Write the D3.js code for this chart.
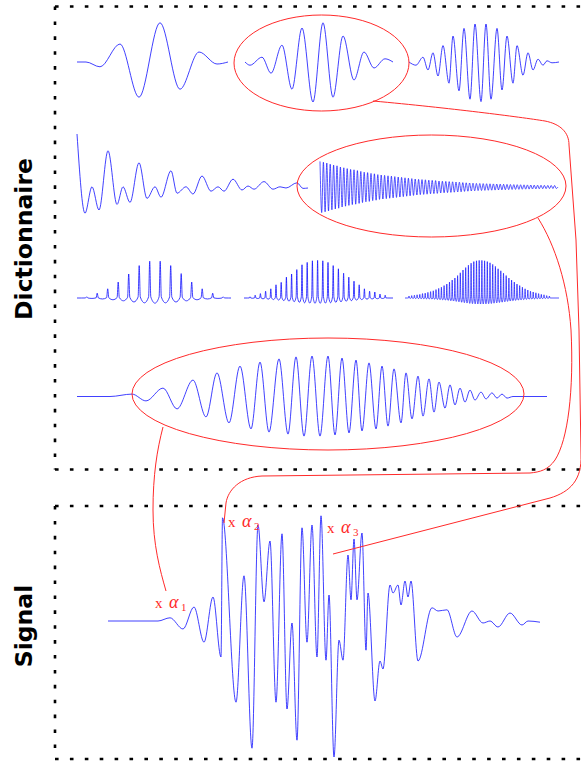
<!DOCTYPE html>
<html><head><meta charset="utf-8">
<script src="https://cdn.jsdelivr.net/npm/d3@7"></script>
<style>html,body{margin:0;padding:0;background:#fff;}svg{display:block}</style>
</head><body><svg id="c" width="581" height="761"></svg>
<script>
// ---------------- DATA (time in samples, amplitude in normalized units) ----------------
const panelLabels = ["Dictionnaire", "Signal"];
const coefLabels = ["1", "2", "3"];

// Row 1 : Gabor atoms (extrema)
const gaborLowT  = [0,9,23,43,62,83,103,122,140,151];
const gaborLowA  = [0,0,-0.12,0.45,-0.88,0.98,-0.68,0.25,-0.05,0];
const gaborMidT  = [0,5,17,26,37,47,57,68,78,88,98,109,119,129,140,148];
const gaborMidA  = [0,-0.08,0.12,-0.28,0.42,-0.68,0.85,-1.0,0.98,-0.88,0.65,-0.45,0.25,-0.15,0.08,0];
const gaborHighT = [0,7,14,19,24,29,34,40,44,50,55,61,66,72,77,82,88,93,98,104,108,114,119,124,129,134,138,143,150];
const gaborHighA = [0,-0.08,0.12,-0.2,0.23,-0.35,0.41,-0.53,0.65,-0.72,0.84,-0.93,0.95,-0.99,0.95,-0.93,0.84,-0.7,0.65,-0.53,0.41,-0.33,0.23,-0.2,0.07,-0.08,0.03,-0.02,0];

// Row 2 : damped atoms
const dampedLowT = [0,8,15,22,31,40,46,53,62,70,78,84,94,100,109,116,125,134,141,147,156,165,171,177,187,196,203,209,220,226,231];
const dampedLowA = [1.35,-0.63,0.03,-0.55,0.93,-0.41,0.03,-0.36,0.63,-0.26,0.03,-0.23,0.43,-0.13,0.03,-0.15,0.3,-0.08,0.03,-0.08,0.22,-0.05,0.05,-0.03,0.16,-0.03,0.03,0,0.13,-0.01,0];
const dampedHighPeriod = 3.4;
const dampedHighAmp = [0.64,0.62,0.6,0.57,0.55,0.53,0.5,0.48,0.46,0.44,
  0.43,0.41,0.39,0.37,0.36,0.34,0.33,0.31,0.3,0.29,
  0.28,0.27,0.26,0.25,0.24,0.23,0.22,0.21,0.2,0.19,
  0.185,0.18,0.17,0.165,0.16,0.15,0.145,0.14,0.135,0.13,
  0.125,0.12,0.11,0.105,0.1,0.095,0.09,0.088,0.085,0.082,
  0.08,0.077,0.074,0.071,0.068,0.065,0.062,0.06,0.058,0.056,
  0.054,0.052,0.05,0.048,0.046,0.044,0.042,0.04,0.039,0.038];

// Row 3 : harmonic combs (spike heights)
const combA = {len:154, first:9.7, step:10.5, h:[0.03,0.12,0.23,0.4,0.6,0.81,0.92,0.92,0.81,0.61,0.4,0.23,0.12,0.03]};
const combB = {len:149, first:6, step:5.2, h:[0.03,0.07,0.11,0.17,0.23,0.33,0.39,0.52,0.6,0.71,0.83,0.89,0.93,0.94,0.93,0.89,0.81,0.73,0.62,0.52,0.42,0.33,0.23,0.17,0.15,0.1,0.07]};
const combC = {len:154, first:4, step:2.7, h:[0.05,0.06,0.07,0.08,0.09,0.11,0.12,0.14,0.16,0.18,0.21,0.24,0.27,0.31,0.35,0.4,0.45,0.5,0.56,0.63,0.7,0.76,0.82,0.87,0.91,0.93,0.94,0.94,0.93,0.91,0.88,0.84,0.79,0.73,0.68,0.62,0.56,0.5,0.45,0.4,0.35,0.31,0.27,0.23,0.2,0.17,0.15,0.13,0.11,0.09,0.08,0.06,0.05]};

// Row 4 : chirp atom
const chirpT = [0,33,55,69,86,100,116,129,140,152,163,174,183,192,202,211,219,227,235,243,251,258,265,272,279,285,292,299,305,311,317,324,329,335,341,346,352,357,362,368,373,378,383,388,393,398,404,409,415,420,425,430,436,470];
const chirpA = [0,0,0.06,-0.11,0.21,-0.31,0.41,-0.51,0.59,-0.66,0.76,-0.81,0.86,-0.89,0.94,-0.94,0.99,-0.99,1.01,-0.99,1.01,-0.96,0.96,-0.91,0.91,-0.86,0.84,-0.81,0.76,-0.74,0.69,-0.66,0.59,-0.56,0.51,-0.49,0.44,-0.39,0.36,-0.29,0.29,-0.21,0.21,-0.14,0.16,-0.09,0.11,-0.06,0.09,-0.04,0.06,-0.04,0,0];

// Signal
const signalT = [0,50,62,75,86,96,105,113,114.5,128,136,144,150,156,162,168,174,179,184,189,194,199,204,209,213,218,221,226,231,235,240,243,246,249,254,258,260,267,272,275,282,285,290,293,297,300,303,310,324,330,339,349,364,375,382,390,402,414,420,432];
const signalA = [0,0,0.08,-0.2,0.35,-0.53,0.6,-0.9,2.58,-2.03,1.13,-3.18,2.4,0.48,2.0,-2.03,2.18,-2.2,-0.05,-2.98,2.33,-0.53,2.4,-0.9,2.63,-0.98,0.65,-3.4,-0.48,-0.98,1.65,0.53,2.05,0.53,2.2,-0.73,0.7,-2.0,-1.0,-1.2,0.9,0.7,0.9,0.4,1.0,0.6,1.0,-1.0,0.33,0.25,0.28,-0.4,0.25,-0.05,0,-0.15,0.2,-0.1,0,-0.03];

// ---------------- DRAWING ----------------
const svg = d3.select('#c');
const BLUE = '#1010ff', RED = '#ff2a2a';

function drawPts(pts, x0, len, y0, k, sw) {
  const x = d3.scaleLinear().domain([0, len]).range([x0, x0 + len]);
  const y = d3.scaleLinear().domain([-1, 1]).range([y0 + k, y0 - k]);
  const line = d3.line().x(d => x(d[0])).y(d => y(d[1])).curve(d3.curveMonotoneX);
  svg.append('path').attr('d', line(pts)).attr('fill', 'none')
    .attr('stroke', BLUE).attr('stroke-width', sw || 0.8).attr('stroke-linejoin', 'round');
}
function wave(t, a, x0, y0, k) {
  drawPts(d3.zip(t, a), x0, t[t.length - 1], y0, k);
}
function damped(amp, P, x0, y0, k) {
  const pts = [];
  amp.forEach((v, i) => { pts.push([i * P, v]); pts.push([i * P + P / 2, -v]); });
  const len = amp.length * P;
  pts.push([len, 0]);
  drawPts(pts, x0, len, y0, k, 0.7);
}
function comb(c, x0, y0, k, w, r, sw) {
  const pts = [[0, 0]];
  c.h.forEach((h, i) => {
    const t = c.first + i * c.step;
    if (i === 0) pts.push([t - c.step / 2, 0]);
    else pts.push([t - c.step / 2, -r * (h + c.h[i - 1]) / 2]);
    pts.push([t - w, 0.03 * h]);
    pts.push([t, h]);
    pts.push([t + w, 0.03 * h]);
  });
  const last = c.first + (c.h.length - 1) * c.step;
  pts.push([last + c.step / 2, 0]);
  pts.push([c.len, 0]);
  drawPts(pts, x0, c.len, y0, k, sw);
}

// dotted frames
function dotted(x1, y1, x2, y2) {
  svg.append('line').attr('x1', x1).attr('y1', y1).attr('x2', x2).attr('y2', y2)
    .attr('stroke', '#000').attr('stroke-width', 2.6).attr('stroke-dasharray', '3.6 11.3');
}
dotted(55, 6.5, 600, 6.5); dotted(55, 6.5, 55, 469.5); dotted(55, 469.5, 600, 469.5);
dotted(55, 506, 600, 506); dotted(55, 506, 55, 759); dotted(55, 759, 600, 759);

// panel labels
[[panelLabels[0], 239], [panelLabels[1], 626]].forEach(([s, cy]) => {
  svg.append('text').attr('transform', `translate(32,${cy}) rotate(-90)`)
    .attr('text-anchor', 'middle').attr('font-family', 'DejaVu Sans').attr('font-weight', 'bold')
    .attr('font-size', 23.5).attr('fill', '#000').text(s);
});

// atoms
wave(gaborLowT, gaborLowA, 77, 62, 40);
wave(gaborMidT, gaborMidA, 245, 62, 40);
wave(gaborHighT, gaborHighA, 409, 62, 40);
wave(dampedLowT, dampedLowA, 77, 188, 40);
damped(dampedHighAmp, dampedHighPeriod, 320, 187, 40);
comb(combA, 77, 298, 40, 1.1, 0.14, 0.8);
comb(combB, 244, 298, 40, 0.7, 0.14, 0.8);
comb(combC, 405, 298, 40, 0.5, 0.16, 0.7);
wave(chirpT, chirpA, 77, 396.5, 40);
wave(signalT, signalA, 108, 621, 40);

// selection ellipses
const ell = [[321.5, 63, 87.5, 48], [431.5, 186, 134.5, 51], [328, 394, 196, 56]];
ell.forEach(e => svg.append('ellipse').attr('cx', e[0]).attr('cy', e[1]).attr('rx', e[2]).attr('ry', e[3])
  .attr('fill', 'none').attr('stroke', RED).attr('stroke-width', 1));

// connectors
const conn = [
  'M373,101 C450,108 520,117 545,121 C560,124 569,132 569,145 L576,240 L579,330 L581,455 C582,480 570,492 550,498 L333,554',
  'M538,218 C555,245 568,285 571,330 C574,390 568,440 555,460 C548,470 540,472 530,473 L262,476 C240,477 228,490 226,503 L224,523',
  'M163,427 C157,450 153,475 153,510 C153,545 160,570 166,591'
];
conn.forEach(d => svg.append('path').attr('d', d).attr('fill', 'none').attr('stroke', RED).attr('stroke-width', 1));

// coefficient labels
const lab = [[155, 608], [228, 527], [327, 533]];
lab.forEach((p, i) => {
  const t = svg.append('text').attr('font-family', 'Liberation Serif').attr('font-size', 15).attr('fill', RED);
  t.append('tspan').attr('x', p[0]).attr('y', p[1]).text('x');
  t.append('tspan').attr('x', p[0] + 14).attr('y', p[1]).attr('font-style', 'italic').attr('font-size', 18).text('α');
  t.append('tspan').attr('x', p[0] + 26).attr('y', p[1] + 3).attr('font-size', 11).text(coefLabels[i]);
});
</script></body></html>
